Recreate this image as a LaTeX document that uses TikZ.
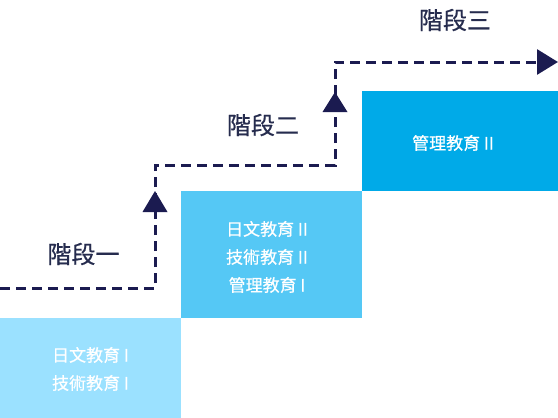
\documentclass[tikz,border=0pt]{standalone}
\usepackage{fontspec}
\newfontfamily\cjk{Noto Sans CJK TC}
\newfontfamily\cjkm[FakeBold=0.6]{Noto Sans CJK TC}
\usetikzlibrary{arrows.meta}
\definecolor{boxA}{RGB}{155,225,255}
\definecolor{boxB}{RGB}{85,200,245}
\definecolor{boxC}{RGB}{0,170,232}
\definecolor{navy}{RGB}{27,27,80}
\definecolor{labelc}{RGB}{38,44,78}
\tikzset{
  boxtext/.style={text=white, align=center, font=\cjkm\fontsize{17}{28}\selectfont, inner sep=0pt},
  stagelabel/.style={text=labelc, font=\cjkm\fontsize{24}{28}\selectfont, inner sep=0pt},
  pathline/.style={draw=navy, line width=3pt, dash pattern=on 10pt off 6pt},
  midtip/.style={fill=navy}
}
\begin{document}
\begin{tikzpicture}[x=1pt,y=-1pt]
\useasboundingbox (0,0) rectangle (558,418);
% boxes
\fill[boxA] (0,318) rectangle (181,418);
\fill[boxB] (181,191) rectangle (362,318);
\fill[boxC] (362,91) rectangle (558,191);
\node[boxtext] (t1) at (90.5,369) {日文教育 I\\技術教育 I};
\node[boxtext] (t2) at (267,257) {日文教育 II\\技術教育 II\\管理教育 I};
\node[boxtext] (t3) at (453,143) {管理教育 II};
% stage labels
\node[stagelabel] (s1) at (83.5,254) {階段一};
\node[stagelabel] (s2) at (263,125) {階段二};
\node[stagelabel] (s3) at (455,20) {階段三};
% dashed path
\coordinate (p0) at (0,288);
\coordinate (p1) at (155,288);
\coordinate (p2) at (155,165);
\coordinate (p3) at (335,165);
\coordinate (p4) at (335,62);
\coordinate (p5) at (558,62);
\draw[pathline, -{Triangle[width=25pt,length=21pt]}] (p0) -- (p1) -- (p2) -- (p3) -- (p4) -- (p5);
% mid arrows
\fill[midtip] (155,191) -- (167.5,212) -- (142.5,212) -- cycle;
\fill[midtip] (335,92) -- (347.5,112) -- (322.5,112) -- cycle;
\end{tikzpicture}
\end{document}
